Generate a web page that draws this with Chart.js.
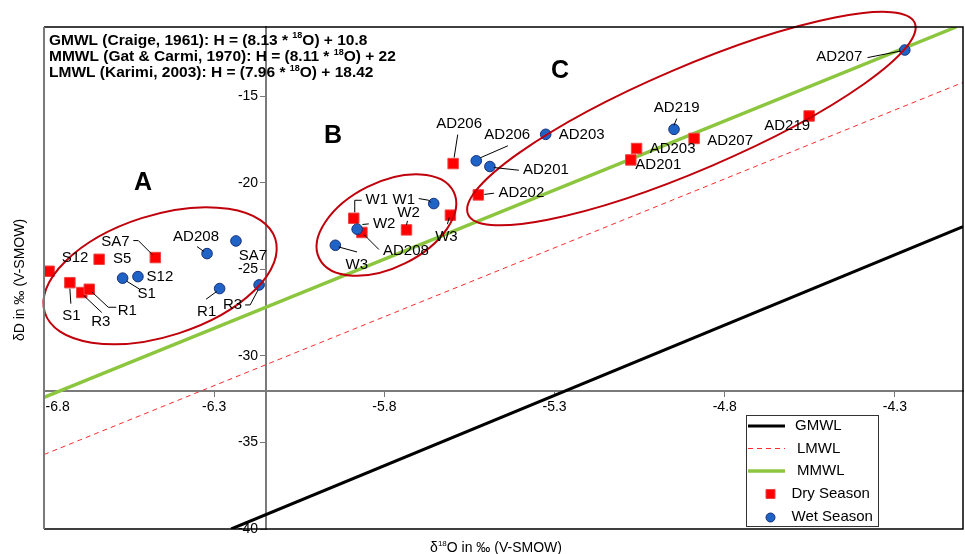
<!DOCTYPE html>
<html>
<head>
<meta charset="utf-8">
<title>Isotope plot</title>
<script src="https://cdn.jsdelivr.net/npm/chart.js@4.4.1/dist/chart.umd.min.js"></script>
<style>
  html, body { margin: 0; padding: 0; background: #fff; }
  #wrap { width: 965px; height: 554px; }
</style>
</head>
<body>
<div id="wrap"><canvas id="isoChart" width="965" height="554"></canvas></div>
<script>
// dry season samples
const dryNames = ['S12', 'S5', 'SA7', 'S1', 'R3', 'R1', 'W1', 'AD208', 'W2', 'W3', 'AD206', 'AD202', 'AD201', 'AD203', 'AD207', 'AD219'];
const dryO18 = [-6.785, -6.638, -6.473, -6.724, -6.689, -6.667, -5.890, -5.866, -5.735, -5.606, -5.598, -5.524, -5.076, -5.059, -4.890, -4.552];
const dryD = [-25.11, -24.42, -24.32, -25.77, -26.34, -26.15, -22.05, -22.87, -22.72, -21.87, -18.89, -20.70, -18.68, -18.02, -17.44, -16.14];

// wet season samples
const wetNames = ['S1', 'S12', 'AD208', 'SA7', 'R1', 'R3', 'W2', 'W1', 'W3', 'AD206', 'AD201', 'AD203', 'AD219', 'AD207'];
const wetO18 = [-6.569, -6.524, -6.321, -6.236, -6.284, -6.168, -5.880, -5.655, -5.944, -5.530, -5.490, -5.326, -4.949, -4.271];
const wetD = [-25.51, -25.42, -24.09, -23.36, -26.11, -25.90, -22.68, -21.20, -23.61, -18.73, -19.06, -17.20, -16.91, -12.33];

// meteoric water lines (end points)
const gmwlO18 = [-6.25, -4.1];
const gmwlD = [-40, -22.53];
const lmwlO18 = [-6.8, -4.1];
const lmwlD = [-35.7, -14.2];
const mmwlO18 = [-6.8, -4.12];
const mmwlD = [-32.4, -11.0];

const xTicks = [-6.8, -6.3, -5.8, -5.3, -4.8, -4.3];
const yTicks = [-40, -35, -30, -25, -20, -15];

const equations = [
  ['GMWL (Craige, 1961): H = (8.13 * ', 'O) + 10.8'],
  ['MMWL (Gat & Carmi, 1970): H = (8.11 * ', 'O) + 22'],
  ['LMWL (Karimi, 2003): H = (7.96 * ', 'O) + 18.42']
];

// sample groups
const groupNames = ['A', 'B', 'C'];
const groupO18 = [-6.459, -5.794, -4.898];
const groupD = [-25.37, -22.44, -16.29];

const FONT = '"Liberation Sans", Arial, Helvetica, sans-serif';

// ellipse outline (pixels) and letter position for each group
const groupShapes = [
  { rx: 121, ry: 60.5, tilt: -17.8, letterX: -6.509, letterY: -20.03 },
  { rx: 75, ry: 42.6, tilt: -26.5, letterX: -5.951, letterY: -17.31 },
  { rx: 243, ry: 51.4, tilt: -23.2, letterX: -5.284, letterY: -13.56 }
];

// label offsets from the marker, plus optional leader polyline
const dryLabelPos = [
  { dx: 26, dy: -13 },
  { dx: 23, dy: 0 },
  { dx: -40, dy: -16, lead: [[-22, -17], [-17, -17], [-3, -3]] },
  { dx: 1.5, dy: 33, lead: [[0, 6], [1, 21]] },
  { dx: 19, dy: 29, lead: [[2, 3], [20, 20]] },
  { dx: 38, dy: 22, lead: [[3, 3], [19, 18], [27, 18]] },
  { dx: 23, dy: -18, lead: [[8, -18], [1, -18], [1, -6]] },
  { dx: 44, dy: 18, lead: [[2, 2], [17, 17]] },
  { dx: 2, dy: -17, lead: [[0, -5], [1, -9]] },
  { dx: -4, dy: 21.5, lead: [[-1, 2], [-3, 9]] },
  { dx: 6, dy: -40, lead: [[1, -6], [4.6, -29]] },
  { dx: 43, dy: -1.7, lead: [[6, -0.5], [15.6, -1.7]] },
  { dx: 27.5, dy: 4.8 },
  { dx: 36, dy: 0.7 },
  { dx: 36, dy: 2 },
  { dx: -22, dy: 10 }
];
const wetLabelPos = [
  { dx: 24, dy: 15.5, lead: [[4, 3], [17, 11]] },
  { dx: 22, dy: 0 },
  { dx: -11, dy: -17, lead: [[-10, -7], [-3, -2]] },
  { dx: 17, dy: 15 },
  { dx: -13, dy: 23, lead: [[-13.6, 10.7], [-3, 3]] },
  { dx: -26.5, dy: 20, lead: [[-14, 20], [-9, 20], [-1, 5]] },
  { dx: 27, dy: -5, lead: [[5.3, -4.7], [11.6, -5.3]] },
  { dx: -30, dy: -3.3, lead: [[-15, -5], [-5, -3.3], [-3, -1]] },
  { dx: 21.5, dy: 20, lead: [[3.3, 1.7], [21.7, 6.7]] },
  { dx: 31, dy: -26, lead: [[4, -3], [31.6, -15]] },
  { dx: 56, dy: 3.7, lead: [[4, 1], [29, 3.7]] },
  { dx: 36, dy: 1 },
  { dx: 2.7, dy: -21, lead: [[0, -4], [2.7, -10.7]] },
  { dx: -65.5, dy: 7, lead: [[-37.3, 7.6], [-4, 1]] }
];

const toPoints = (xs, ys) => xs.map((x, i) => ({ x: x, y: ys[i] }));

// small helper: draws text with a raised "18" between two parts
function drawSup(ctx, x, y, before, after, size, weight) {
  ctx.font = weight + ' ' + size + 'px ' + FONT;
  ctx.fillText(before, x, y);
  x += ctx.measureText(before).width;
  ctx.font = weight + ' ' + Math.round(size * 0.55) + 'px ' + FONT;
  ctx.fillText('18', x, y - size * 0.42);
  x += ctx.measureText('18').width;
  ctx.font = weight + ' ' + size + 'px ' + FONT;
  ctx.fillText(after, x, y);
}
function supWidth(ctx, before, after, size, weight) {
  ctx.font = weight + ' ' + size + 'px ' + FONT;
  let w = ctx.measureText(before).width + ctx.measureText(after).width;
  ctx.font = weight + ' ' + Math.round(size * 0.55) + 'px ' + FONT;
  return w + ctx.measureText('18').width;
}

const annotations = {
  id: 'annotations',
  afterDatasetsDraw(chart) {
    const ctx = chart.ctx;
    const xs = chart.scales.x, ys = chart.scales.y;

    // group ellipses and letters
    ctx.save();
    ctx.strokeStyle = '#c0000a';
    ctx.lineWidth = 2;
    groupNames.forEach((g, i) => {
      const s = groupShapes[i];
      ctx.beginPath();
      ctx.ellipse(xs.getPixelForValue(groupO18[i]), ys.getPixelForValue(groupD[i]),
        s.rx, s.ry, s.tilt * Math.PI / 180, 0, Math.PI * 2);
      ctx.stroke();
      ctx.fillStyle = '#000';
      ctx.font = 'bold 25px ' + FONT;
      ctx.textAlign = 'center';
      ctx.textBaseline = 'middle';
      ctx.fillText(g, xs.getPixelForValue(s.letterX), ys.getPixelForValue(s.letterY));
    });
    ctx.restore();

    // sample labels with leader lines
    ctx.save();
    ctx.font = '15px ' + FONT;
    ctx.fillStyle = '#000';
    ctx.strokeStyle = '#000';
    ctx.lineWidth = 1;
    ctx.textAlign = 'center';
    ctx.textBaseline = 'middle';
    const put = (names, xv, yv, pos) => {
      names.forEach((n, i) => {
        const px = xs.getPixelForValue(xv[i]);
        const py = ys.getPixelForValue(yv[i]);
        const p = pos[i];
        if (p.lead) {
          ctx.beginPath();
          p.lead.forEach(([lx, ly], k) => {
            if (k === 0) ctx.moveTo(px + lx, py + ly);
            else ctx.lineTo(px + lx, py + ly);
          });
          ctx.stroke();
        }
        ctx.fillText(n, px + p.dx, py + p.dy);
      });
    };
    put(dryNames, dryO18, dryD, dryLabelPos);
    put(wetNames, wetO18, wetD, wetLabelPos);
    ctx.restore();
  },
  afterDraw(chart) {
    const ctx = chart.ctx;
    const a = chart.chartArea;

    // frame
    ctx.save();
    ctx.strokeStyle = '#000';
    ctx.lineWidth = 1.5;
    ctx.beginPath();
    ctx.moveTo(a.left, a.top);
    ctx.lineTo(a.right, a.top);
    ctx.lineTo(a.right, a.bottom);
    ctx.lineTo(a.left, a.bottom);
    ctx.stroke();
    ctx.strokeStyle = '#7a7a7a';
    ctx.lineWidth = 2;
    ctx.beginPath();
    ctx.moveTo(a.left, a.top);
    ctx.lineTo(a.left, a.bottom);
    ctx.stroke();

    // equations
    ctx.fillStyle = '#000';
    ctx.textAlign = 'left';
    ctx.textBaseline = 'alphabetic';
    equations.forEach((eq, i) => {
      drawSup(ctx, a.left + 5, a.top + 18 + i * 16.2, eq[0], eq[1], 15.5, 'bold');
    });

    // axis titles
    const xt = ['\u03b4', 'O in \u2030 (V-SMOW)'];
    const w = supWidth(ctx, xt[0], xt[1], 14, 'normal');
    drawSup(ctx, 496 - w / 2, a.bottom + 23, xt[0], xt[1], 14, 'normal');
    ctx.save();
    ctx.translate(a.left - 24, (a.top + a.bottom) / 2 + 2);
    ctx.rotate(-Math.PI / 2);
    ctx.font = '14px ' + FONT;
    ctx.textAlign = 'center';
    ctx.textBaseline = 'middle';
    ctx.fillText('\u03b4D in \u2030 (V-SMOW)', 0, 0);
    ctx.restore();

    // legend box
    const bx = a.right - 217, by = a.bottom - 114, bw = 132, bh = 111;
    ctx.fillStyle = '#fff';
    ctx.fillRect(bx, by, bw, bh);
    ctx.strokeStyle = '#333';
    ctx.lineWidth = 1;
    ctx.strokeRect(bx + 0.5, by + 0.5, bw, bh);
    ctx.font = '15px ' + FONT;
    ctx.textBaseline = 'middle';
    ctx.fillStyle = '#000';
    const ds = chart.data.datasets;
    const rows = [11, 33.5, 56, 79, 101.5];
    ds.forEach((d, i) => {
      const ry = by + rows[i];
      if (d.showLine) {
        ctx.save();
        ctx.strokeStyle = d.borderColor;
        ctx.lineWidth = d.borderWidth;
        ctx.setLineDash(d.borderDash || []);
        ctx.beginPath();
        ctx.moveTo(bx + 2, ry);
        ctx.lineTo(bx + 39, ry);
        ctx.stroke();
        ctx.restore();
        ctx.fillText(d.label, bx + 49 + (i ? 2 : 0), ry);
      } else {
        ctx.save();
        ctx.fillStyle = d.backgroundColor;
        ctx.strokeStyle = d.borderColor;
        ctx.lineWidth = 1;
        ctx.beginPath();
        if (d.pointStyle === 'rect') ctx.rect(bx + 20, ry - 4.5, 9, 9);
        else ctx.arc(bx + 24.5, ry + 1, 4.5, 0, Math.PI * 2);
        ctx.fill();
        ctx.stroke();
        ctx.restore();
        ctx.fillText(d.label, bx + 45.5, ry);
      }
    });
    ctx.restore();
  }
};

const lineStyle = { showLine: true, pointRadius: 0, tension: 0, fill: false };

new Chart(document.getElementById('isoChart'), {
  type: 'scatter',
  data: {
    datasets: [
      Object.assign({ label: 'GMWL', data: toPoints(gmwlO18, gmwlD), borderColor: '#000', borderWidth: 3, order: 4 }, lineStyle),
      Object.assign({ label: 'LMWL', data: toPoints(lmwlO18, lmwlD), borderColor: '#ff2a2a', borderWidth: 1, borderDash: [5, 4], order: 3 }, lineStyle),
      Object.assign({ label: 'MMWL', data: toPoints(mmwlO18, mmwlD), borderColor: '#8cc63f', borderWidth: 3.5, order: 2 }, lineStyle),
      {
        label: 'Dry Season',
        data: toPoints(dryO18, dryD),
        pointStyle: 'rect',
        pointRadius: 7.4,
        backgroundColor: '#ff0000',
        borderColor: '#ee4444',
        borderWidth: 1,
        order: 1
      },
      {
        label: 'Wet Season',
        data: toPoints(wetO18, wetD),
        pointStyle: 'circle',
        pointRadius: 5.3,
        backgroundColor: '#1f63c6',
        borderColor: '#17307a',
        borderWidth: 1,
        order: 0
      }
    ]
  },
  options: {
    responsive: false,
    animation: false,
    layout: { autoPadding: false, padding: { left: 44, top: 27, right: 2, bottom: 25 } },
    plugins: { legend: { display: false }, tooltip: { enabled: false } },
    scales: {
      x: {
        type: 'linear',
        min: -6.8,
        max: -4.1,
        position: { y: -32 },
        afterBuildTicks: s => { s.ticks = xTicks.map(v => ({ value: v })); },
        ticks: {
          font: { family: FONT, size: 14 },
          color: '#000',
          padding: 3,
          maxRotation: 0,
          // keep the first label inside the frame
          callback: (v, i) => (i === 0 ? '       ' : '') + Number(v).toFixed(1)
        },
        grid: { drawOnChartArea: false, drawTicks: true, tickLength: 5, tickColor: '#777' },
        border: { display: true, color: '#7a7a7a', width: 2 }
      },
      y: {
        type: 'linear',
        min: -40,
        max: -11,
        position: { x: -6.148 },
        afterBuildTicks: s => { s.ticks = yTicks.map(v => ({ value: v })); },
        ticks: {
          font: { family: FONT, size: 14 },
          color: '#000',
          // labels sit right against the axis, so pad them past the tick marks
          callback: v => String(v) + '  '
        },
        grid: { drawOnChartArea: false, drawTicks: true, tickLength: 5, tickColor: '#777' },
        border: { display: true, color: '#7a7a7a', width: 2 }
      }
    }
  },
  plugins: [annotations]
});
</script>
</body>
</html>
